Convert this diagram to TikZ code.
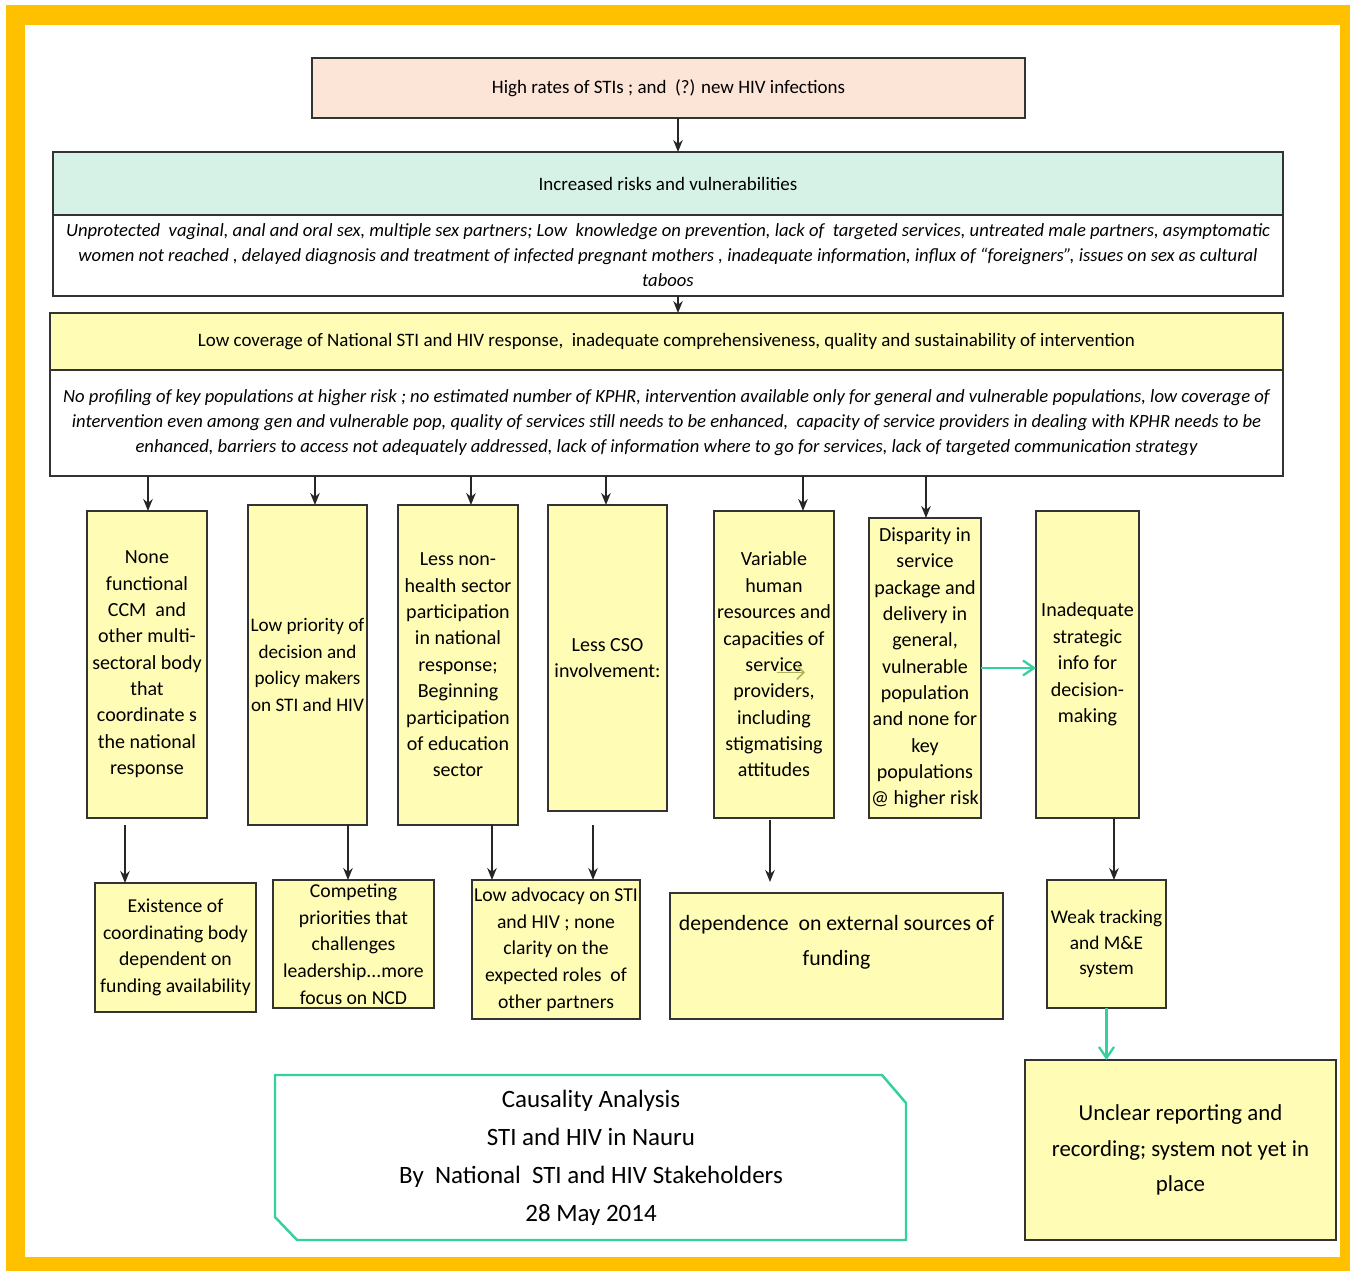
\documentclass[tikz,border=0pt]{standalone}
\usepackage{fontspec}
\setmainfont{Carlito}
\usetikzlibrary{arrows.meta}

\definecolor{marco}{RGB}{255,192,0}
\definecolor{melocoton}{RGB}{252,228,214}
\definecolor{menta}{RGB}{214,241,230}
\definecolor{crema}{RGB}{255,252,182}
\definecolor{turquesa}{RGB}{52,208,160}
\definecolor{oliva}{RGB}{170,180,90}

\tikzset{
  caja/.style={draw=black!80, line width=1.4pt, inner sep=1pt, outer sep=0pt, align=center},
  amarilla/.style={caja, fill=crema, anchor=north west},
  flecha/.style={-{Stealth[length=2.4mm,width=1.9mm]}, line width=1pt, black!85},
  flechaT/.style={-{Straight Barb[length=2.2mm,width=3mm]}, line width=1.3pt, turquesa},
  titulo/.style={font=\fontsize{10.8}{13}\selectfont},
  chica/.style={font=\fontsize{11.4}{15}\selectfont},
  media/.style={font=\fontsize{11.2}{15.2}\selectfont},
  cursiva/.style={font=\fontsize{10.6}{14.2}\selectfont\itshape},
}

\begin{document}
\begin{tikzpicture}[x=0.02cm,y=-0.02cm]
  % Paso 1: marco amarillo
  \useasboundingbox (0,0) rectangle (1350,1271);
  \fill[white] (0,0) rectangle (1350,1271);
  \fill[marco] (6,5) rectangle (1350,1271);
  \fill[white] (25,25) rectangle (1340,1257);

  % Paso 2: problema central
  \node[caja, fill=melocoton, minimum width=14.26cm, minimum height=1.2cm, titulo]
    (hi) at (668.5,88)
    {High rates of STIs ; and \ (?) new HIV infections};

  % Paso 3: riesgos y vulnerabilidades
  \node[caja, fill=menta, minimum width=24.6cm, minimum height=1.26cm, titulo]
    (risk) at (668,183.5)
    {Increased risks and vulnerabilities};
  \node[caja, fill=white, minimum width=24.6cm, minimum height=1.62cm,
    anchor=north, cursiva] (riskb) at (risk.south)
    {Unprotected \ vaginal, anal and oral sex, multiple sex partners; Low \ knowledge on prevention, lack of \ targeted services, untreated male partners, asymptomatic\\
     women not reached , delayed diagnosis and treatment of infected pregnant mothers , inadequate information, influx of ``foreigners'', issues on sex as cultural\\
     taboos};

  % Paso 4: cobertura de la respuesta nacional
  \node[caja, fill=crema, minimum width=24.66cm, minimum height=1.14cm, titulo]
    (cov) at (666.5,341.5)
    {Low coverage of National STI and HIV response, \ inadequate comprehensiveness, quality and sustainability of intervention};
  \node[caja, fill=white, minimum width=24.66cm, minimum height=2.12cm,
    anchor=north, cursiva] (covb) at (cov.south)
    {No profiling of key populations at higher risk ; no estimated number of KPHR, intervention available only for general and vulnerable populations, low coverage of\\
     intervention even among gen and vulnerable pop, quality of services still needs to be enhanced, \ capacity of service providers in dealing with KPHR needs to be\\
     enhanced, barriers to access not adequately addressed, lack of information where to go for services, lack of targeted communication strategy};

  % Paso 5: causas (columnas)
  \node[amarilla, chica, minimum width=2.4cm, minimum height=6.14cm] (c1) at (87,511)
    {None\\functional\\CCM \ and\\other multi-\\sectoral body\\that\\coordinate s\\the national\\response};
  \node[amarilla, font=\fontsize{10.9}{15}\selectfont, inner xsep=0pt,
    minimum width=2.38cm, minimum height=6.4cm] (c2) at (248,505)
    {Low priority of\\decision and\\policy makers\\on STI and HIV};
  \node[amarilla, chica, minimum width=2.4cm, minimum height=6.4cm] (c3) at (398,505)
    {Less non-\\health sector\\participation\\in national\\response;\\Beginning\\participation\\of education\\sector};
  \node[amarilla, chica, minimum width=2.38cm, minimum height=6.12cm] (c4) at (548,505)
    {Less CSO\\involvement:};
  \node[amarilla, chica, minimum width=2.4cm, minimum height=6.14cm] (c5) at (714,511)
    {Variable\\human\\resources and\\capacities of\\service\\providers,\\including\\stigmatising\\attitudes};
  \node[amarilla, chica, minimum width=2.24cm, minimum height=6cm] (c6) at (869,518)
    {Disparity in\\service\\package and\\delivery in\\general,\\vulnerable\\population\\and none for\\key\\populations\\@ higher risk};
  \node[amarilla, chica, minimum width=2.06cm, minimum height=6.14cm] (c7) at (1036,511)
    {Inadequate\\strategic\\info for\\decision-\\making};

  % Paso 6: consecuencias (fila inferior)
  \node[amarilla, media, minimum width=3.22cm, minimum height=2.58cm] (b1) at (95,883)
    {Existence of\\coordinating body\\dependent on\\funding availability};
  \node[amarilla, media, minimum width=3.22cm, minimum height=2.56cm] (b2) at (273,880)
    {Competing\\priorities that\\challenges\\leadership...more\\focus on NCD};
  \node[amarilla, media, minimum width=3.36cm, minimum height=2.78cm] (b3) at (472,880)
    {Low advocacy on STI\\and HIV ; none\\clarity on the\\expected roles \ of\\other partners};
  \node[amarilla, minimum width=6.66cm, minimum height=2.52cm] (b4) at (670,893) {};
  \node[align=center, font=\fontsize{12.4}{20}\selectfont] (b4t) at (836.5,942)
    {dependence \ on external sources of\\funding};
  \node[amarilla, font=\fontsize{11}{14.5}\selectfont, minimum width=2.38cm,
    minimum height=2.56cm] (b5) at (1047,880)
    {Weak tracking\\and M\&E\\system};
  \node[amarilla, font=\fontsize{13}{20}\selectfont, minimum width=6.22cm,
    minimum height=3.6cm] (b6) at (1025,1060)
    {Unclear reporting and\\recording; system not yet in\\place};

  % Paso 7: recuadro del titulo
  \draw[turquesa, line width=1.4pt] (275,1075) -- (882,1075) -- (906,1103)
    -- (906,1240) -- (297,1240) -- (275,1217) -- cycle;
  \node[align=center, font=\fontsize{14.2}{21.6}\selectfont] (cap) at (591,1158)
    {Causality Analysis\\STI and HIV in Nauru\\By \ National \ STI and HIV Stakeholders\\28 May 2014};

  % Paso 8: flechas
  \draw[flecha] ([xshift=0.19cm]hi.south) -- ([xshift=0.19cm]hi.south |- risk.north);
  \draw[flecha] ([xshift=0.2cm]riskb.south) -- ([xshift=0.2cm]riskb.south |- cov.north);
  \foreach \c/\d in {c1/1, c2/7.5, c3/13, c4/-1.5, c5/29, c6/1}
    \draw[flecha] ([xshift=\d*0.02cm]\c.north |- covb.south) -- ([xshift=\d*0.02cm]\c.north);

  \draw[flecha, shorten <=0.14cm] ([xshift=-0.44cm]c1.south) -- ([xshift=-0.44cm]c1.south |- b1.north);
  \draw[flecha] ([xshift=0.81cm]c2.south) -- ([xshift=0.81cm]c2.south |- b2.north);
  \draw[flecha] ([xshift=0.68cm]c3.south) -- ([xshift=0.68cm]c3.south |- b3.north);
  \draw[flecha, shorten <=0.28cm] ([xshift=-0.29cm]c4.south) -- ([xshift=-0.29cm]c4.south |- b3.north);
  \draw[flecha, shorten <=0.04cm, shorten >=0.22cm] ([xshift=-0.08cm]c5.south) -- ([xshift=-0.08cm]c5.south |- b4.north);
  \draw[flecha] ([xshift=0.53cm]c7.south) -- ([xshift=0.53cm]c7.south |- b5.north);

  \draw[flechaT] (c6.east) -- (c6.east -| c7.west);
  \draw[flechaT] (b5.south) -- (b5.south |- b6.north);

  % Paso 9: flechita suelta dentro de la caja c5
  \coordinate (f1) at ([xshift=0.06cm,yshift=-0.16cm]c5.center);
  \coordinate (f2) at ([xshift=0.62cm,yshift=-0.16cm]c5.center);
  \draw[-{Straight Barb[length=1.4mm]}, oliva, line width=0.9pt] (f1) -- (f2);
\end{tikzpicture}
\end{document}
